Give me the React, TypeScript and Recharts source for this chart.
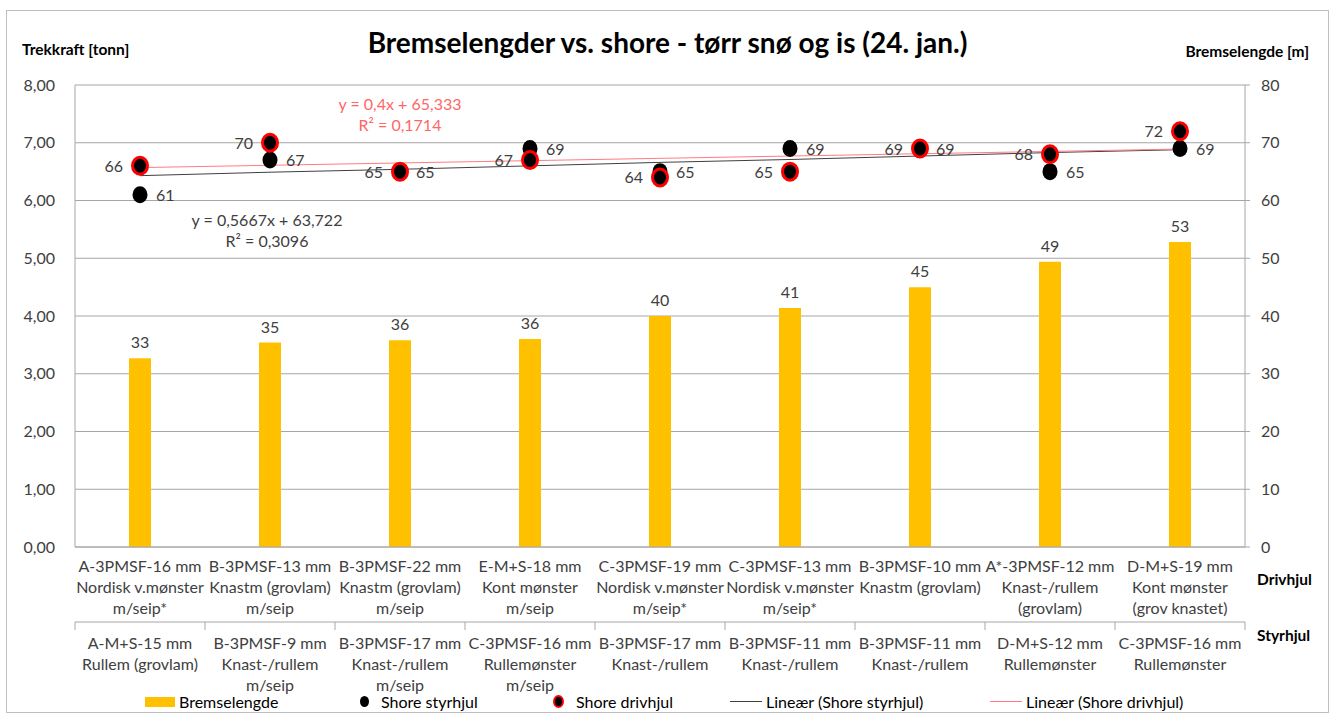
import React from 'react';
import { ComposedChart, Bar, Line, Scatter, XAxis, YAxis, CartesianGrid, LabelList } from 'recharts';

const drivLabels: string[][] = [
  ['A-3PMSF-16 mm', 'Nordisk v.mønster', 'm/seip*'],
  ['B-3PMSF-13 mm', 'Knastm (grovlam)', 'm/seip'],
  ['B-3PMSF-22 mm', 'Knastm (grovlam)', 'm/seip'],
  ['E-M+S-18 mm', 'Kont mønster', 'm/seip'],
  ['C-3PMSF-19 mm', 'Nordisk v.mønster', 'm/seip*'],
  ['C-3PMSF-13 mm', 'Nordisk v.mønster', 'm/seip*'],
  ['B-3PMSF-10 mm', 'Knastm (grovlam)'],
  ['A*-3PMSF-12 mm', 'Knast-/rullem', '(grovlam)'],
  ['D-M+S-19 mm', 'Kont mønster', '(grov knastet)'],
];

const styrLabels: string[][] = [
  ['A-M+S-15 mm', 'Rullem (grovlam)'],
  ['B-3PMSF-9 mm', 'Knast-/rullem', 'm/seip'],
  ['B-3PMSF-17 mm', 'Knast-/rullem', 'm/seip'],
  ['C-3PMSF-16 mm', 'Rullemønster', 'm/seip'],
  ['B-3PMSF-17 mm', 'Knast-/rullem'],
  ['B-3PMSF-11 mm', 'Knast-/rullem'],
  ['B-3PMSF-11 mm', 'Knast-/rullem'],
  ['D-M+S-12 mm', 'Rullemønster'],
  ['C-3PMSF-16 mm', 'Rullemønster'],
];

// Bremselengde [m]
const bremselengde = [32.7, 35.4, 35.8, 36.0, 40.0, 41.4, 45.0, 49.4, 52.8];
// Shore values
const shoreStyrhjul = [61, 67, 65, 69, 65, 69, 69, 65, 69];
const shoreDrivhjul = [66, 70, 65, 67, 64, 65, 69, 68, 72];
// trend lines as drawn
const trendStyrhjul = [64.3, 64.9, 65.4, 66.0, 66.6, 67.1, 67.7, 68.3, 68.8];
const trendDrivhjul = [65.7, 66.1, 66.5, 66.9, 67.3, 67.7, 68.1, 68.5, 68.9];

const leftTicks = [0, 1, 2, 3, 4, 5, 6, 7, 8];
const rightTicks = [0, 10, 20, 30, 40, 50, 60, 70, 80];

const FONT = 'Lato, "Open Sans", sans-serif';
const TEXT = '#404040';
const GRID = '#a6a6a6';
const HALF_BAND = 65;

const data = drivLabels.map((lines, i) => ({
  name: lines.join(' '),
  brems: bremselengde[i],
  styr: shoreStyrhjul[i],
  driv: shoreDrivhjul[i],
  styrTrend: trendStyrhjul[i],
  drivTrend: trendDrivhjul[i],
}));

const CategoryTick = (props: any) => {
  const { x, y, index } = props;
  const drv = drivLabels[index] || [];
  const sty = styrLabels[index] || [];
  const last = index === drivLabels.length - 1;
  return (
    <g>
      {drv.map((t, k) => (
        <text key={'d' + k} x={x} y={y + 17 + k * 21} textAnchor="middle" fontSize={16} fill={TEXT} fontFamily={FONT}>
          {t}
        </text>
      ))}
      <line x1={x - HALF_BAND} x2={x + HALF_BAND} y1={y + 67} y2={y + 67} stroke={GRID} />
      <line x1={x - HALF_BAND} x2={x - HALF_BAND} y1={y + 67} y2={y + 75} stroke={GRID} />
      {last && <line x1={x + HALF_BAND} x2={x + HALF_BAND} y1={y + 67} y2={y + 75} stroke={GRID} />}
      {sty.map((t, k) => (
        <text key={'s' + k} x={x} y={y + 94 + k * 21} textAnchor="middle" fontSize={16} fill={TEXT} fontFamily={FONT}>
          {t}
        </text>
      ))}
    </g>
  );
};

const StyrDot = (props: any) => {
  const { cx, cy, payload } = props;
  return (
    <g>
      <ellipse cx={cx} cy={cy} rx={7.5} ry={8.5} fill="#000" />
      <text x={cx + 16} y={cy + 6} fontSize={16} fill={TEXT} fontFamily={FONT}>
        {payload.styr}
      </text>
    </g>
  );
};

const DrivDot = (props: any) => {
  const { cx, cy, payload } = props;
  return (
    <g>
      <ellipse cx={cx} cy={cy} rx={7.5} ry={8.5} fill="#000" stroke="#ff0000" strokeWidth={3} />
      <text x={cx - 17} y={cy + 6} fontSize={16} fill={TEXT} fontFamily={FONT} textAnchor="end">
        {payload.driv}
      </text>
    </g>
  );
};

const legendItems = [
  { name: 'Bremselengde', kind: 'bar', width: 212 },
  { name: 'Shore styrhjul', kind: 'styr', width: 193 },
  { name: 'Shore drivhjul', kind: 'driv', width: 180 },
  { name: 'Lineær (Shore styrhjul)', kind: 'lineS', width: 260 },
  { name: 'Lineær (Shore drivhjul)', kind: 'lineD', width: 240 },
];

const LegendIcon = ({ kind }: { kind: string }) => {
  if (kind === 'bar') return <div style={{ width: 30, height: 10, background: '#FFC000', marginRight: 4 }} />;
  if (kind === 'styr')
    return <div style={{ width: 9, height: 11, borderRadius: '50%', background: '#000', margin: '0 12px 0 3px' }} />;
  if (kind === 'driv')
    return (
      <div style={{ width: 7, height: 9, borderRadius: '50%', background: '#000', border: '2px solid #f00', margin: '0 12px 0 3px' }} />
    );
  const color = kind === 'lineS' ? '#404040' : '#ff7c80';
  return <div style={{ width: 32, height: 1, background: color, marginRight: 4 }} />;
};

export default function App() {
  return (
    <div style={{ position: 'absolute', left: 0, top: 0, width: 1335, height: 714, background: '#fff', fontFamily: FONT, color: TEXT }}>
      <div style={{ position: 'absolute', left: 6, top: 10, width: 1321, height: 701, border: '1px solid #bfbfbf' }} />
      <div style={{ position: 'absolute', left: 0, width: 1335, top: 25, textAlign: 'center', fontSize: 28, fontWeight: 700, color: '#000' }}>
        Bremselengder vs. shore - tørr snø og is (24. jan.)
      </div>
      <div style={{ position: 'absolute', left: 22, top: 40, fontSize: 15.5, fontWeight: 700, color: '#000' }}>Trekkraft [tonn]</div>
      <div style={{ position: 'absolute', right: 26, top: 42, fontSize: 15.5, fontWeight: 700, color: '#000' }}>Bremselengde [m]</div>
      <div style={{ position: 'absolute', left: 1257, top: 570, fontSize: 15.5, fontWeight: 700, color: '#000' }}>Drivhjul</div>
      <div style={{ position: 'absolute', left: 1257, top: 626, fontSize: 15.5, fontWeight: 700, color: '#000' }}>Styrhjul</div>
      <ComposedChart width={1335} height={714} data={data} margin={{ top: 85, right: 0, bottom: 0, left: 0 }}>
        <CartesianGrid yAxisId="right" vertical={false} stroke={GRID} />
        <XAxis
          dataKey="name"
          interval={0}
          height={167}
          axisLine={{ stroke: GRID }}
          tickLine={false}
          tick={<CategoryTick />}
        />
        <YAxis
          yAxisId="left"
          orientation="left"
          type="number"
          width={75}
          domain={[0, 8]}
          allowDataOverflow
          ticks={leftTicks}
          tickFormatter={(v: number) => v.toFixed(2).replace('.', ',')}
          axisLine={{ stroke: GRID }}
          tickLine={false}
          tickMargin={14}
          tick={{ fontSize: 16, fill: TEXT, fontFamily: FONT }}
        />
        <YAxis
          yAxisId="right"
          orientation="right"
          width={90}
          domain={[0, 80]}
          ticks={rightTicks}
          axisLine={{ stroke: GRID }}
          tickLine={{ stroke: GRID }}
          tickSize={5}
          tickMargin={11}
          tick={{ fontSize: 16, fill: TEXT, fontFamily: FONT, textAnchor: 'start' }}
        />
        <Bar yAxisId="right" dataKey="brems" name="Bremselengde" fill="#FFC000" barSize={22} isAnimationActive={false}>
          <LabelList
            dataKey="brems"
            position="top"
            offset={10}
            formatter={(v: any) => Math.round(Number(v))}
            style={{ fontSize: 16, fill: TEXT, fontFamily: FONT }}
          />
        </Bar>
        <Line yAxisId="right" dataKey="styrTrend" name="Lineær (Shore styrhjul)" stroke="#404040" strokeWidth={1} dot={false} activeDot={false} isAnimationActive={false} />
        <Line yAxisId="right" dataKey="drivTrend" name="Lineær (Shore drivhjul)" stroke="#ff7c80" strokeWidth={1} dot={false} activeDot={false} isAnimationActive={false} />
        <Scatter yAxisId="right" dataKey="styr" name="Shore styrhjul" fill="#000" shape={<StyrDot />} isAnimationActive={false} />
        <Scatter yAxisId="right" dataKey="driv" name="Shore drivhjul" fill="#000" shape={<DrivDot />} isAnimationActive={false} />
      </ComposedChart>
      <div style={{ position: 'absolute', left: 75, top: 93, width: 650, textAlign: 'center', fontSize: 16, color: '#ff6666', lineHeight: '21px' }}>
        <div>y = 0,4x + 65,333</div>
        <div>R² = 0,1714</div>
      </div>
      <div style={{ position: 'absolute', left: -58, top: 209, width: 650, textAlign: 'center', fontSize: 16, color: TEXT, lineHeight: '21px' }}>
        <div>y = 0,5667x + 63,722</div>
        <div>R² = 0,3096</div>
      </div>
      <div style={{ position: 'absolute', left: 145, top: 692, display: 'flex', alignItems: 'center', fontSize: 16, color: '#000' }}>
        {legendItems.map((it) => (
          <div key={it.name} style={{ width: it.width, display: 'flex', alignItems: 'center' }}>
            <LegendIcon kind={it.kind} />
            <span>{it.name}</span>
          </div>
        ))}
      </div>
    </div>
  );
}
